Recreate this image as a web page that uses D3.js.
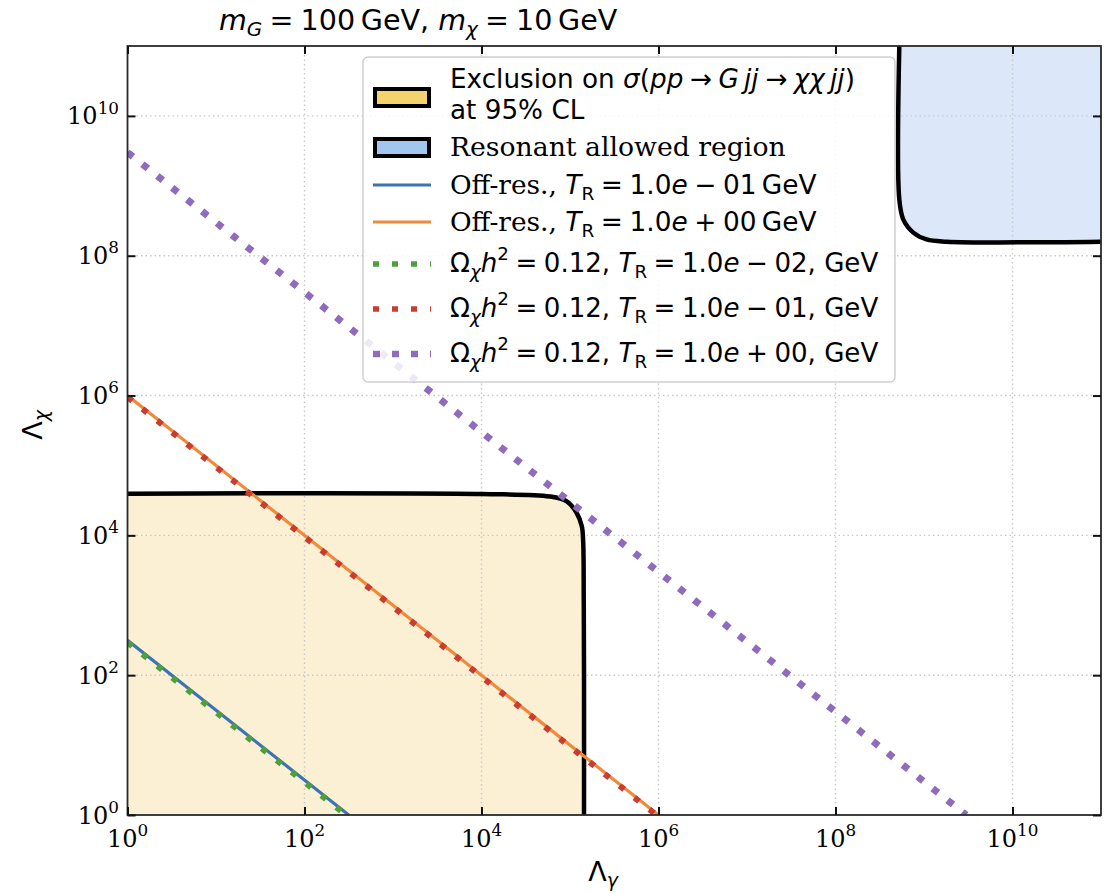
<!DOCTYPE html>
<html><head><meta charset="utf-8">
<script src="https://cdn.jsdelivr.net/npm/d3@7"></script>
<style>body{margin:0;background:#fff}svg{display:block}</style>
</head><body><svg id="c" width="1105" height="893"></svg>
<script>
// ---------------- data ----------------
const tickValues = [1e0, 1e2, 1e4, 1e6, 1e8, 1e10];
const tickExponents = ["0", "2", "4", "6", "8", "10"];
const gridValues = [1e2, 1e4, 1e6, 1e8, 1e10];

// Off-resonance lines
const offResLowX = [1, 316];   const offResLowY = [316, 1];      // T_R = 0.1 GeV
const offResHighX = [1, 1e6];  const offResHighY = [1e6, 1];     // T_R = 1 GeV
// Relic density lines
const relicLowX = [1, 295];    const relicLowY = [295, 1];       // T_R = 0.01 GeV
const relicMidX = [1, 9.5e5];  const relicMidY = [9.5e5, 1];     // T_R = 0.1 GeV
const relicHighX = [1, 3e9];   const relicHighY = [3e9, 1];      // T_R = 1 GeV

// Exclusion contour (95% CL)
const exclX = [1, 1e4, 5.9e4, 9.2e4, 1.19e5, 1.36e5, 1.41e5, 1.43e5, 1.44e5, 1.44e5];
const exclY = [3.95e4, 3.9e4, 3.6e4, 3.07e4, 2.09e4, 1.35e4, 7.9e3, 1.2e3, 100, 1];
// Resonant allowed region contour
const resX = [5.26e8, 5.26e8, 5.83e8, 7.57e8, 1.07e9, 1.81e9, 1e11];
const resY = [1e11, 6.4e8, 3.31e8, 2.14e8, 1.71e8, 1.59e8, 1.59e8];

const domainMin = 1, domainMax = 1e11;

// ---------------- layout / style ----------------
const SANS = "DejaVu Sans", SERIF = "DejaVu Serif";
const SP = "\u2005", TH = "\u2009";
const X0 = 127.5, X1 = 1101, Y0 = 815, Y1 = 46;
const svg = d3.select("#c");
const x = d3.scaleLog().domain([domainMin, domainMax]).range([X0, X1]);
const y = d3.scaleLog().domain([domainMin, domainMax]).range([Y0, Y1]);

svg.append("defs").append("clipPath").attr("id", "clip")
  .append("rect").attr("x", X0).attr("y", Y1).attr("width", X1 - X0).attr("height", Y0 - Y1);

const plot = svg.append("g").attr("clip-path", "url(#clip)");
const pts = (xs, ys) => xs.map((v, i) => [x(v), y(ys[i])]);
const straight = d3.line();
const smooth = d3.line().curve(d3.curveCatmullRom.alpha(0.5));

// fills
plot.append("path")
  .attr("d", smooth(pts(exclX, exclY)) + `L${x(domainMin)},${y(domainMin)}Z`)
  .attr("fill", "#fbf0d4");
plot.append("path")
  .attr("d", smooth(pts(resX, resY)) + `L${x(domainMax)},${y(domainMax)}Z`)
  .attr("fill", "#dce8f9");

// grid
gridValues.forEach(v => {
  plot.append("line").attr("x1", x(v)).attr("x2", x(v)).attr("y1", Y1).attr("y2", Y0)
    .attr("stroke", "#c9c9c9").attr("stroke-width", 1.4).attr("stroke-dasharray", "1.5,3");
  plot.append("line").attr("y1", y(v)).attr("y2", y(v)).attr("x1", X0).attr("x2", X1)
    .attr("stroke", "#c9c9c9").attr("stroke-width", 1.4).attr("stroke-dasharray", "1.5,3");
});

// contours
[[exclX, exclY], [resX, resY]].forEach(([xs, ys]) => {
  plot.append("path").attr("d", smooth(pts(xs, ys)))
    .attr("fill", "none").attr("stroke", "#000").attr("stroke-width", 4.5);
});

// series
const COL = {blue: "#3c74b2", orange: "#ef8a3c", green: "#4fa03c", red: "#c93d30", purple: "#8f6bbd"};
const series = [
  {xs: offResLowX, ys: offResLowY, c: COL.blue, w: 3.2, d: null},
  {xs: offResHighX, ys: offResHighY, c: COL.orange, w: 3.2, d: null},
  {xs: relicLowX, ys: relicLowY, c: COL.green, w: 6, d: "6,13"},
  {xs: relicMidX, ys: relicMidY, c: COL.red, w: 6, d: "6,13"},
  {xs: relicHighX, ys: relicHighY, c: COL.purple, w: 7, d: "7,12"}
];
series.forEach(s => {
  const p = plot.append("path").attr("d", straight(pts(s.xs, s.ys)))
    .attr("fill", "none").attr("stroke", s.c).attr("stroke-width", s.w);
  if (s.d) p.attr("stroke-dasharray", s.d);
});

// rich text helper
function addRich(g, xx, yb, segs, fs, family, anchor) {
  const t = g.append("text").attr("x", xx).attr("y", yb)
    .attr("font-family", family).attr("font-size", fs).attr("fill", "#000");
  if (anchor) t.attr("text-anchor", anchor);
  let off = 0;
  segs.forEach(s => {
    const target = s.sub ? 0.22 * fs : s.sup ? -0.45 * fs : 0;
    const sp = t.append("tspan").text(s.t);
    if (target !== off) { sp.attr("dy", target - off); off = target; }
    if (s.sub || s.sup) sp.attr("font-size", 0.7 * fs);
    if (s.it) sp.attr("font-style", "italic");
    if (s.f) sp.attr("font-family", s.f);
  });
  return t;
}
function addFit(g, xx, yb, segs, family, targetW) {
  let t = addRich(g, xx, yb, segs, 20, family);
  const w = t.node().getBBox().width;
  t.remove();
  const fs = 20 * targetW / w;
  return addRich(g, xx, yb, segs, fs, family);
}

// legend
const lg = svg.append("g");
lg.append("rect").attr("x", 363).attr("y", 57).attr("width", 532).attr("height", 325).attr("rx", 5)
  .attr("fill", "#fff").attr("fill-opacity", 0.85).attr("stroke", "#cfcfcf").attr("stroke-width", 1.5);

const legendTitle1 = [{t: "Exclusion on "}, {t: "σ", it: 1}, {t: "("}, {t: "pp", it: 1}, {t: SP + "→" + SP}, {t: "G", it: 1},
  {t: TH}, {t: "jj", it: 1}, {t: SP + "→" + SP}, {t: "χχ", it: 1}, {t: TH}, {t: "jj", it: 1}, {t: ")"}];
const line1 = addFit(lg, 450, 88, legendTitle1, SANS, 405);
addRich(lg, 450, 119, [{t: "at 95% CL"}], +line1.attr("font-size"), SANS);
lg.append("rect").attr("x", 375).attr("y", 89).attr("width", 54).attr("height", 17)
  .attr("fill", "#f4d26c").attr("stroke", "#000").attr("stroke-width", 4);

addFit(lg, 450, 156, [{t: "Resonant allowed region"}], SERIF, 336);
lg.append("rect").attr("x", 375).attr("y", 139).attr("width", 54).attr("height", 17)
  .attr("fill", "#a3c6f0").attr("stroke", "#000").attr("stroke-width", 4);

const offRes = (sign, e) => [{t: "Off-res., ", f: SERIF}, {t: "T", it: 1}, {t: "R", sub: 1}, {t: SP + "=" + SP + "1.0"}, {t: "e", it: 1}, {t: `${SP}${sign}${SP}${e}${TH}GeV`}];
const relic = (sign, e) => [{t: "Ω"}, {t: "χ", it: 1, sub: 1}, {t: "h", it: 1}, {t: "2", sup: 1}, {t: SP + "=" + SP + "0.12, "},
  {t: "T", it: 1}, {t: "R", sub: 1}, {t: SP + "=" + SP + "1.0"}, {t: "e", it: 1}, {t: `${SP}${sign}${SP}${e}, GeV`}];

const legendRows = [
  {segs: offRes("−", "01"), yl: 185, yb: 194, w: 367, s: series[0]},
  {segs: offRes("+", "00"), yl: 222, yb: 231, w: 367, s: series[1]},
  {segs: relic("−", "02"), yl: 264, yb: 272, w: 429, s: series[2]},
  {segs: relic("−", "01"), yl: 309, yb: 317, w: 429, s: series[3]},
  {segs: relic("+", "00"), yl: 354, yb: 362, w: 429, s: series[4]}
];
legendRows.forEach(r => {
  const l = lg.append("line").attr("x1", 373).attr("x2", 431).attr("y1", r.yl).attr("y2", r.yl)
    .attr("stroke", r.s.c).attr("stroke-width", r.s.d ? r.s.w - 0.5 : r.s.w);
  if (r.s.d) l.attr("stroke-dasharray", r.s.d);
  addFit(lg, 450, r.yb, r.segs, SANS, r.w);
});

// frame and ticks
svg.append("rect").attr("x", X0).attr("y", Y1).attr("width", X1 - X0).attr("height", Y0 - Y1)
  .attr("fill", "none").attr("stroke", "#2a2a2a").attr("stroke-width", 1.8);
const styleAxis = g => { g.select(".domain").remove(); g.selectAll("line").attr("stroke", "#111").attr("stroke-width", 2); };
svg.append("g").attr("transform", `translate(0,${Y0})`).call(d3.axisBottom(x).tickValues(tickValues).tickSize(-8).tickFormat("")).call(styleAxis);
svg.append("g").attr("transform", `translate(0,${Y1})`).call(d3.axisTop(x).tickValues(tickValues).tickSize(-8).tickFormat("")).call(styleAxis);
svg.append("g").attr("transform", `translate(${X0},0)`).call(d3.axisLeft(y).tickValues(tickValues).tickSize(-8).tickFormat("")).call(styleAxis);
svg.append("g").attr("transform", `translate(${X1},0)`).call(d3.axisRight(y).tickValues(tickValues).tickSize(-8).tickFormat("")).call(styleAxis);

// tick labels
tickValues.forEach((v, i) => {
  addRich(svg, x(v), 847, [{t: "10"}, {t: tickExponents[i], sup: 1}], 24, SERIF, "middle");
  addRich(svg, 119, y(v) + 8.5, [{t: "10"}, {t: tickExponents[i], sup: 1}], 24, SERIF, "end");
});

// title and axis labels
addFit(svg, 219, 30, [{t: "m", it: 1}, {t: "G", it: 1, sub: 1}, {t: SP + "=" + SP + "100" + TH + "GeV, "}, {t: "m", it: 1}, {t: "χ", it: 1, sub: 1}, {t: SP + "=" + SP + "10" + TH + "GeV"}], SANS, 399);
addRich(svg, 603, 881, [{t: "Λ"}, {t: "γ", it: 1, sub: 1}], 27, SANS, "middle");
const yl = svg.append("g").attr("transform", "translate(42,425) rotate(-90)");
addRich(yl, 0, 0, [{t: "Λ"}, {t: "χ", it: 1, sub: 1}], 27, SANS, "middle");
</script></body></html>
